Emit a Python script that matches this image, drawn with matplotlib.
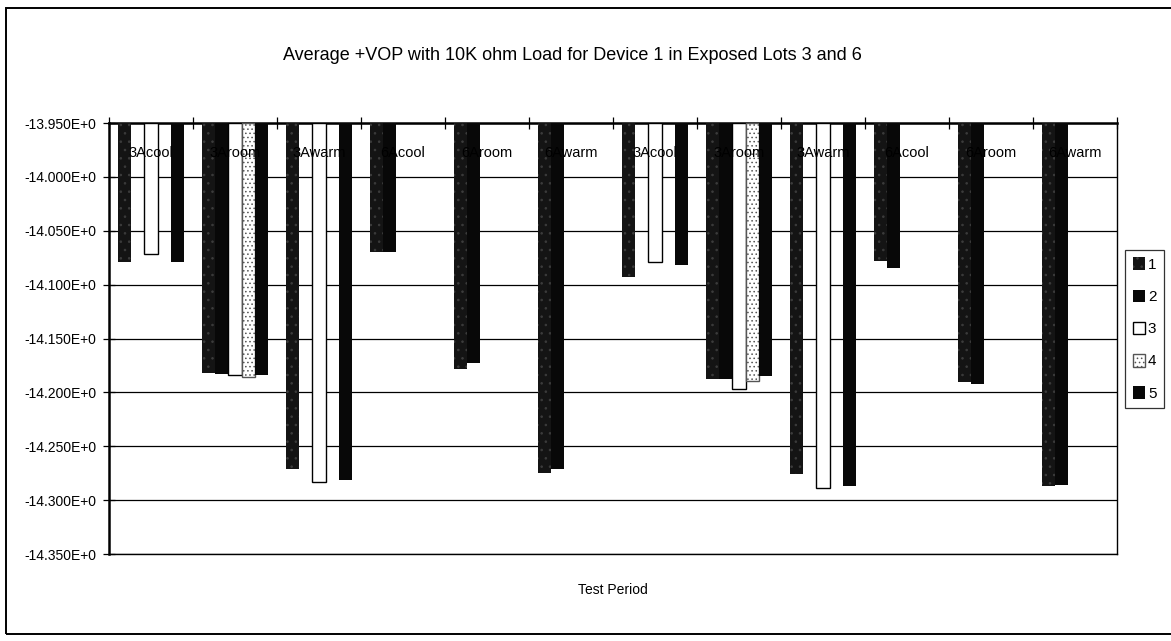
import numpy as np
import matplotlib
matplotlib.use("Agg")
import matplotlib.pyplot as plt
from matplotlib.patches import Patch, Rectangle

nan = np.nan

categories = ["3Acool", "3Aroom", "3Awarm", "6Acool", "6Aroom", "6Awarm",
              "3Acool", "3Aroom", "3Awarm", "6Acool", "6Aroom", "6Awarm"]

s1 = [-14.079, -14.182, -14.271, -14.070, -14.178, -14.275,
      -14.093, -14.188, -14.276, -14.078, -14.190, -14.287]
s2 = [nan, -14.183, nan, -14.070, -14.173, -14.271,
      nan, -14.188, nan, -14.085, -14.192, -14.286]
s3 = [-14.072, -14.184, -14.283, nan, nan, nan,
      -14.079, -14.197, -14.289, nan, nan, nan]
s4 = [nan, -14.186, nan, nan, nan, nan,
      nan, -14.189, nan, nan, nan, nan]
s5 = [-14.079, -14.184, -14.281, nan, nan, nan,
      -14.082, -14.185, -14.287, nan, nan, nan]

series_names = ["1", "2", "3", "4", "5"]
yticks = np.arange(-14.35, -13.949, 0.05)
base = -13.95

plt.rcParams['font.family'] = ['Liberation Sans', 'DejaVu Sans']
plt.rcParams['hatch.linewidth'] = 0.6

W, H = 1171, 641
fig = plt.figure(figsize=(W / 100, H / 100), dpi=100)
ax = fig.add_axes([109 / W, 1 - 554 / H, (1117 - 109) / W, (554 - 123) / H])

styles = [
    dict(facecolor="#141414", edgecolor="#3c3c3c", hatch="..", linewidth=0),
    dict(facecolor="#080808", edgecolor="#080808", linewidth=0),
    dict(facecolor="white", edgecolor="black", linewidth=1.0),
    dict(facecolor="white", edgecolor="#555555", hatch="....", linewidth=1.0),
    dict(facecolor="#080808", edgecolor="#080808", linewidth=0),
]

x = np.arange(len(categories))
bw = 0.158
for i, vals in enumerate([s1, s2, s3, s4, s5]):
    v = np.array(vals, dtype=float)
    ok = ~np.isnan(v)
    ax.bar(x[ok] + (i - 2) * bw, v[ok] - base, bottom=base, width=bw,
           zorder=3, **styles[i])

# category labels sit inside the plot under the top axis, drawn over the bars
for xi, lab in zip(x, categories):
    ax.text(xi, -13.978, lab, ha="center", va="center", fontsize=10.5,
            color="black", zorder=6)

ax.set_xlim(-0.5, len(categories) - 0.5)
ax.set_ylim(-14.35, -13.95)
ax.set_yticks(yticks)
ax.set_yticklabels(["%.3fE+0" % t for t in yticks], fontsize=10)
ax.yaxis.grid(True, color="black", linewidth=0.9, zorder=0)
ax.set_axisbelow(True)
ax.tick_params(axis="y", direction="inout", length=8, width=0.9, pad=5)

ax.xaxis.tick_top()
ax.set_xticks(np.arange(-0.5, len(categories) + 0.5, 1))
ax.set_xticklabels([])
ax.tick_params(axis="x", direction="inout", length=8, width=0.9)

for side in ["left", "top"]:
    ax.spines[side].set_linewidth(1.8)
for side in ["right", "bottom"]:
    ax.spines[side].set_linewidth(1.0)

ax.set_xlabel("Test Period", fontsize=10, labelpad=21)
fig.text(572 / W, 1 - 55 / H,
         "Average +VOP with 10K ohm Load for Device 1 in Exposed Lots 3 and 6",
         ha="center", va="center", fontsize=13)

handles = [Patch(**styles[i]) for i in range(5)]
leg = fig.legend(handles, series_names, loc="center right",
                 bbox_to_anchor=(1164 / W, 1 - 329 / H), frameon=True,
                 fancybox=False, handlelength=0.8, handleheight=0.9,
                 handletextpad=0.2, labelspacing=1.15, borderpad=0.5,
                 borderaxespad=0, fontsize=11)
leg.get_frame().set_edgecolor("black")
leg.get_frame().set_linewidth(0.9)

# outer chart frame
fig.patches.append(Rectangle((6 / W, 1 - 634 / H), 1.05, (634 - 8) / H,
                             transform=fig.transFigure, fill=False,
                             edgecolor="black", linewidth=1.4))

fig.savefig("out.png", dpi=100)
